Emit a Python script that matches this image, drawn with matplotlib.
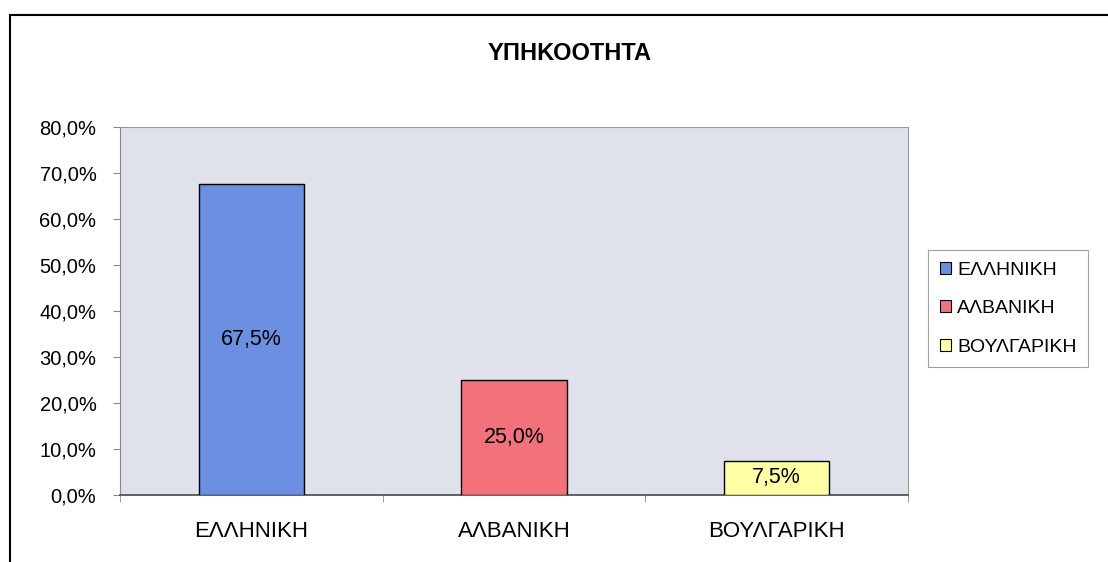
import matplotlib
matplotlib.use("Agg")
import matplotlib.pyplot as plt
from matplotlib.patches import Rectangle
from matplotlib.ticker import FuncFormatter, FixedLocator

# data
categories = ['ΕΛΛΗΝΙΚΗ', 'ΑΛΒΑΝΙΚΗ', 'ΒΟΥΛΓΑΡΙΚΗ']
values = [67.5, 25.0, 7.5]
colors = ['#6c8fe2', '#f2727c', '#ffffa6']
title = 'ΥΠΗΚΟΟΤΗΤΑ'

plt.rcParams['font.family'] = ['Liberation Sans', 'DejaVu Sans']

def pct(v, pos=None):
    return ('%.1f%%' % v).replace('.', ',')

fig = plt.figure(figsize=(11.08, 5.62), dpi=100)
ax = fig.add_axes([120/1108, 67/562, 788/1108, 368/562])
ax.set_facecolor('#dfe2ea')

x = list(range(len(categories)))
bars = ax.bar(x, values, width=0.4, color=colors, edgecolor='black', linewidth=1.0,
              zorder=3)
for b, v in zip(bars, values):
    ax.text(b.get_x() + b.get_width()/2, v/2, pct(v), ha='center', va='center',
            fontsize=15.5, zorder=4)

ax.set_xlim(-0.5, 2.5)
ax.set_ylim(0, 80)
ax.set_yticks(range(0, 81, 10))
ax.yaxis.set_major_formatter(FuncFormatter(pct))
ax.set_xticks(x)
ax.set_xticklabels(categories, fontsize=16)
ax.tick_params(axis='x', length=0, pad=19)
ax.xaxis.set_minor_locator(FixedLocator([-0.5, 0.5, 1.5, 2.5]))
ax.tick_params(axis='x', which='minor', length=5, color='#888888')
ax.tick_params(axis='y', labelsize=14.5, length=5, color='#888888', pad=12)
for s in ['top', 'right']:
    ax.spines[s].set_color('#999999')
ax.spines['left'].set_color('#888888')
ax.spines['bottom'].set_color('#555555')
ax.spines['bottom'].set_linewidth(1.3)

fig.text(570/1108, 1 - 54/562, title, ha='center', va='center', fontsize=17,
         fontweight='bold')

handles = [Rectangle((0, 0), 1, 1, facecolor=c, edgecolor='black', linewidth=0.8)
           for c in colors]
leg = fig.legend(handles, categories, loc='upper left',
                 bbox_to_anchor=(928/1108, 1 - 250/562), fontsize=14,
                 frameon=True, fancybox=False, edgecolor='#888888',
                 handlelength=0.6, handleheight=0.6, handletextpad=0.3,
                 labelspacing=1.1, borderpad=0.6, borderaxespad=0)
leg.get_frame().set_linewidth(0.8)

# outer chart frame
fig.patches.append(Rectangle((10/1108, -0.1), 1.2, 1 - 15/562 + 0.1,
                             transform=fig.transFigure, fill=False,
                             edgecolor='black', linewidth=1.5))

fig.savefig('out.png', dpi=100)
